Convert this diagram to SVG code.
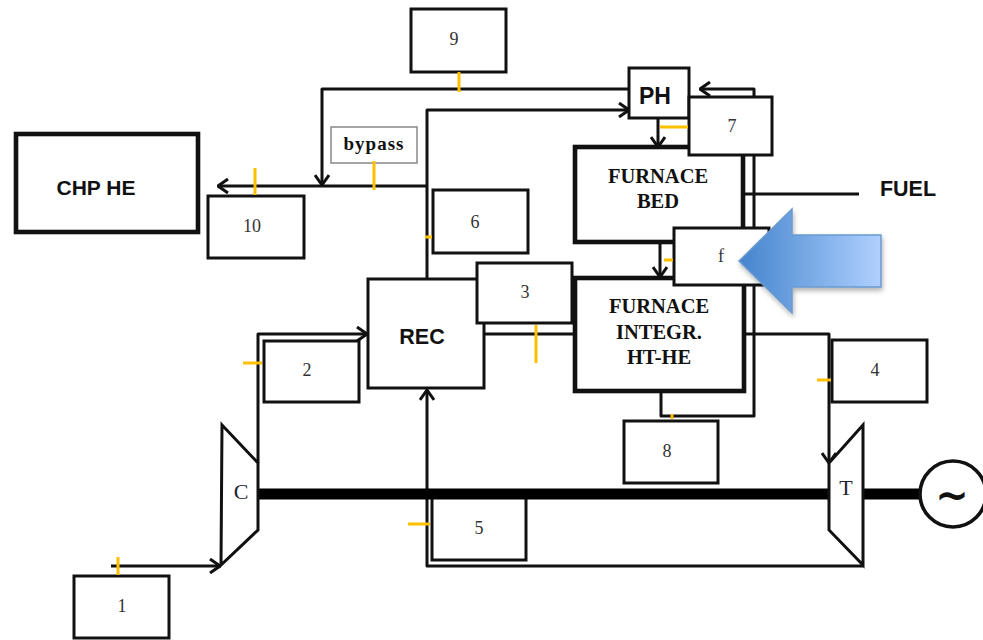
<svg xmlns="http://www.w3.org/2000/svg" width="983" height="640" viewBox="0 0 983 640">
<style>
.box{fill:#fff;stroke:#111;stroke-width:3}
.thick{fill:#fff;stroke:#111;stroke-width:4.6}
.line{fill:none;stroke:#111;stroke-width:3;stroke-linejoin:round}
.tick{fill:none;stroke:#FFC000;stroke-width:3}
.num{font-family:"Liberation Serif",serif;font-size:18px;fill:#333;text-anchor:middle}
.ser{font-family:"Liberation Serif",serif;font-size:20.5px;font-weight:bold;fill:#111;text-anchor:middle}
.san{font-family:"Liberation Sans",sans-serif;font-weight:bold;fill:#111;text-anchor:middle}
</style>
<defs>
<marker id="arr" viewBox="0 0 14 16" refX="13" refY="8" markerWidth="14" markerHeight="16" markerUnits="userSpaceOnUse" orient="auto"><path d="M3 1L13 8L3 15" fill="none" stroke="#111" stroke-width="3"/></marker>
<linearGradient id="bl" x1="0" y1="0" x2="1" y2="0"><stop offset="0" stop-color="#4384cc"/><stop offset="1" stop-color="#b0d0ff"/></linearGradient>
<filter id="sh" x="-10%" y="-10%" width="125%" height="125%"><feDropShadow dx="1" dy="3" stdDeviation="2.5" flood-color="#000" flood-opacity="0.3"/></filter>
</defs>
<rect width="983" height="640" fill="#fff"/>
<g id="connectors">
<path class="line" marker-end="url(#arr)" d="M629 89H322V185"/>
<path class="line" marker-end="url(#arr)" d="M427 279V110H629"/>
<path class="line" marker-end="url(#arr)" d="M427 186H218"/>
<path class="line" marker-end="url(#arr)" d="M658 118V147"/>
<path class="line" marker-end="url(#arr)" d="M661 391V416H754V89H700"/>
<path class="line" marker-end="url(#arr)" d="M660 242V277"/>
<path class="line" d="M743 194H859"/>
<path class="line" marker-end="url(#arr)" d="M745 334H829V463"/>
<path class="line" d="M484 334H574"/>
<path class="line" marker-end="url(#arr)" d="M258 463V334H367"/>
<path class="line" marker-end="url(#arr)" d="M863 566H427V390"/>
<path class="line" marker-end="url(#arr)" d="M111 566H220"/>
</g>
<g id="chp"><rect class="thick" x="16" y="134" width="182" height="98"/><text class="san" x="96" y="195" font-size="21" textLength="79" lengthAdjust="spacingAndGlyphs">CHP HE</text></g>
<g id="rec"><rect class="box" x="368" y="279" width="116" height="109"/><text class="san" x="422" y="344" font-size="21.5">REC</text></g>
<g id="furnace-bed"><rect class="thick" x="575" y="147" width="168" height="95"/><text class="ser" x="658" y="183">FURNACE</text><text class="ser" x="658" y="208">BED</text></g>
<g id="furnace-integr"><rect class="thick" x="575" y="278" width="169" height="113"/><text class="ser" x="659" y="313">FURNACE</text><text class="ser" x="659" y="339">INTEGR.</text><text class="ser" x="659" y="364">HT-HE</text></g>
<g id="ph"><rect class="box" x="629" y="68" width="60" height="50"/><text class="san" x="655" y="104" font-size="23">PH</text></g>
<g id="bypass"><rect x="331" y="127" width="86" height="36" fill="#fff" stroke="#888" stroke-width="1.5"/><text class="ser" x="374" y="150" style="font-size:19px;letter-spacing:1px" fill="#223">bypass</text></g>
<g id="n9"><rect class="box" x="411" y="9" width="95" height="63"/><text class="num" x="454" y="45">9</text></g>
<g id="n7"><rect class="box" x="689" y="97" width="83" height="58"/><text class="num" x="732" y="132">7</text></g>
<g id="n3"><rect class="box" x="477" y="263" width="95" height="60"/><text class="num" x="525" y="298">3</text></g>
<g id="n6"><rect class="box" x="433" y="190" width="95" height="63"/><text class="num" x="475" y="228">6</text></g>
<g id="n10"><rect class="box" x="208" y="196" width="96" height="62"/><text class="num" x="252" y="232">10</text></g>
<g id="n2"><rect class="box" x="264" y="341" width="95" height="61"/><text class="num" x="307" y="376">2</text></g>
<g id="n4"><rect class="box" x="832" y="340" width="95" height="62"/><text class="num" x="875" y="376">4</text></g>
<g id="n8"><rect class="box" x="624" y="421" width="94" height="62"/><text class="num" x="667" y="457">8</text></g>
<g id="n5"><rect class="box" x="432" y="497" width="94" height="63"/><text class="num" x="479" y="534">5</text></g>
<g id="n1"><rect class="box" x="74" y="576" width="95" height="62"/><text class="num" x="122" y="612">1</text></g>
<g id="nf"><rect class="box" x="674" y="228" width="95" height="57"/><text class="num" x="721" y="262">f</text></g>
<g id="shaft"><path d="M258 494H829M863 494H920" fill="none" stroke="#000" stroke-width="11"/></g>
<g id="compressor"><path class="box" d="M222 425L258 463V530L221 565Z"/><text x="241" y="499" font-family="Liberation Serif,serif" font-size="22" fill="#223" text-anchor="middle">C</text></g>
<g id="turbine"><path class="box" d="M863 425L829 463V530L863 565Z"/><text x="846" y="495" font-family="Liberation Serif,serif" font-size="22" fill="#223" text-anchor="middle">T</text></g>
<g id="generator"><circle cx="953" cy="494" r="33" fill="#fff" stroke="#111" stroke-width="3.6"/><text x="952" y="509" font-family="DejaVu Sans,sans-serif" font-size="40" font-weight="bold" fill="#111" text-anchor="middle">~</text></g>
<g id="fuel"><text class="san" x="908" y="196" font-size="21.5">FUEL</text></g>
<g id="ticks">
<path class="tick" d="M459 72V92M374 161V190M255 168V195M425 237H432M536 325V363M243 363H262M408 524H430M118 557V575M660 127H688M664 260H673M817 380H831M672 414V419"/>
</g>
<g id="blue-arrow"><path d="M739 261L792 209V235H881V287H792V313Z" fill="url(#bl)" stroke="#6a9ad0" stroke-width="1.5" filter="url(#sh)"/></g>
</svg>
